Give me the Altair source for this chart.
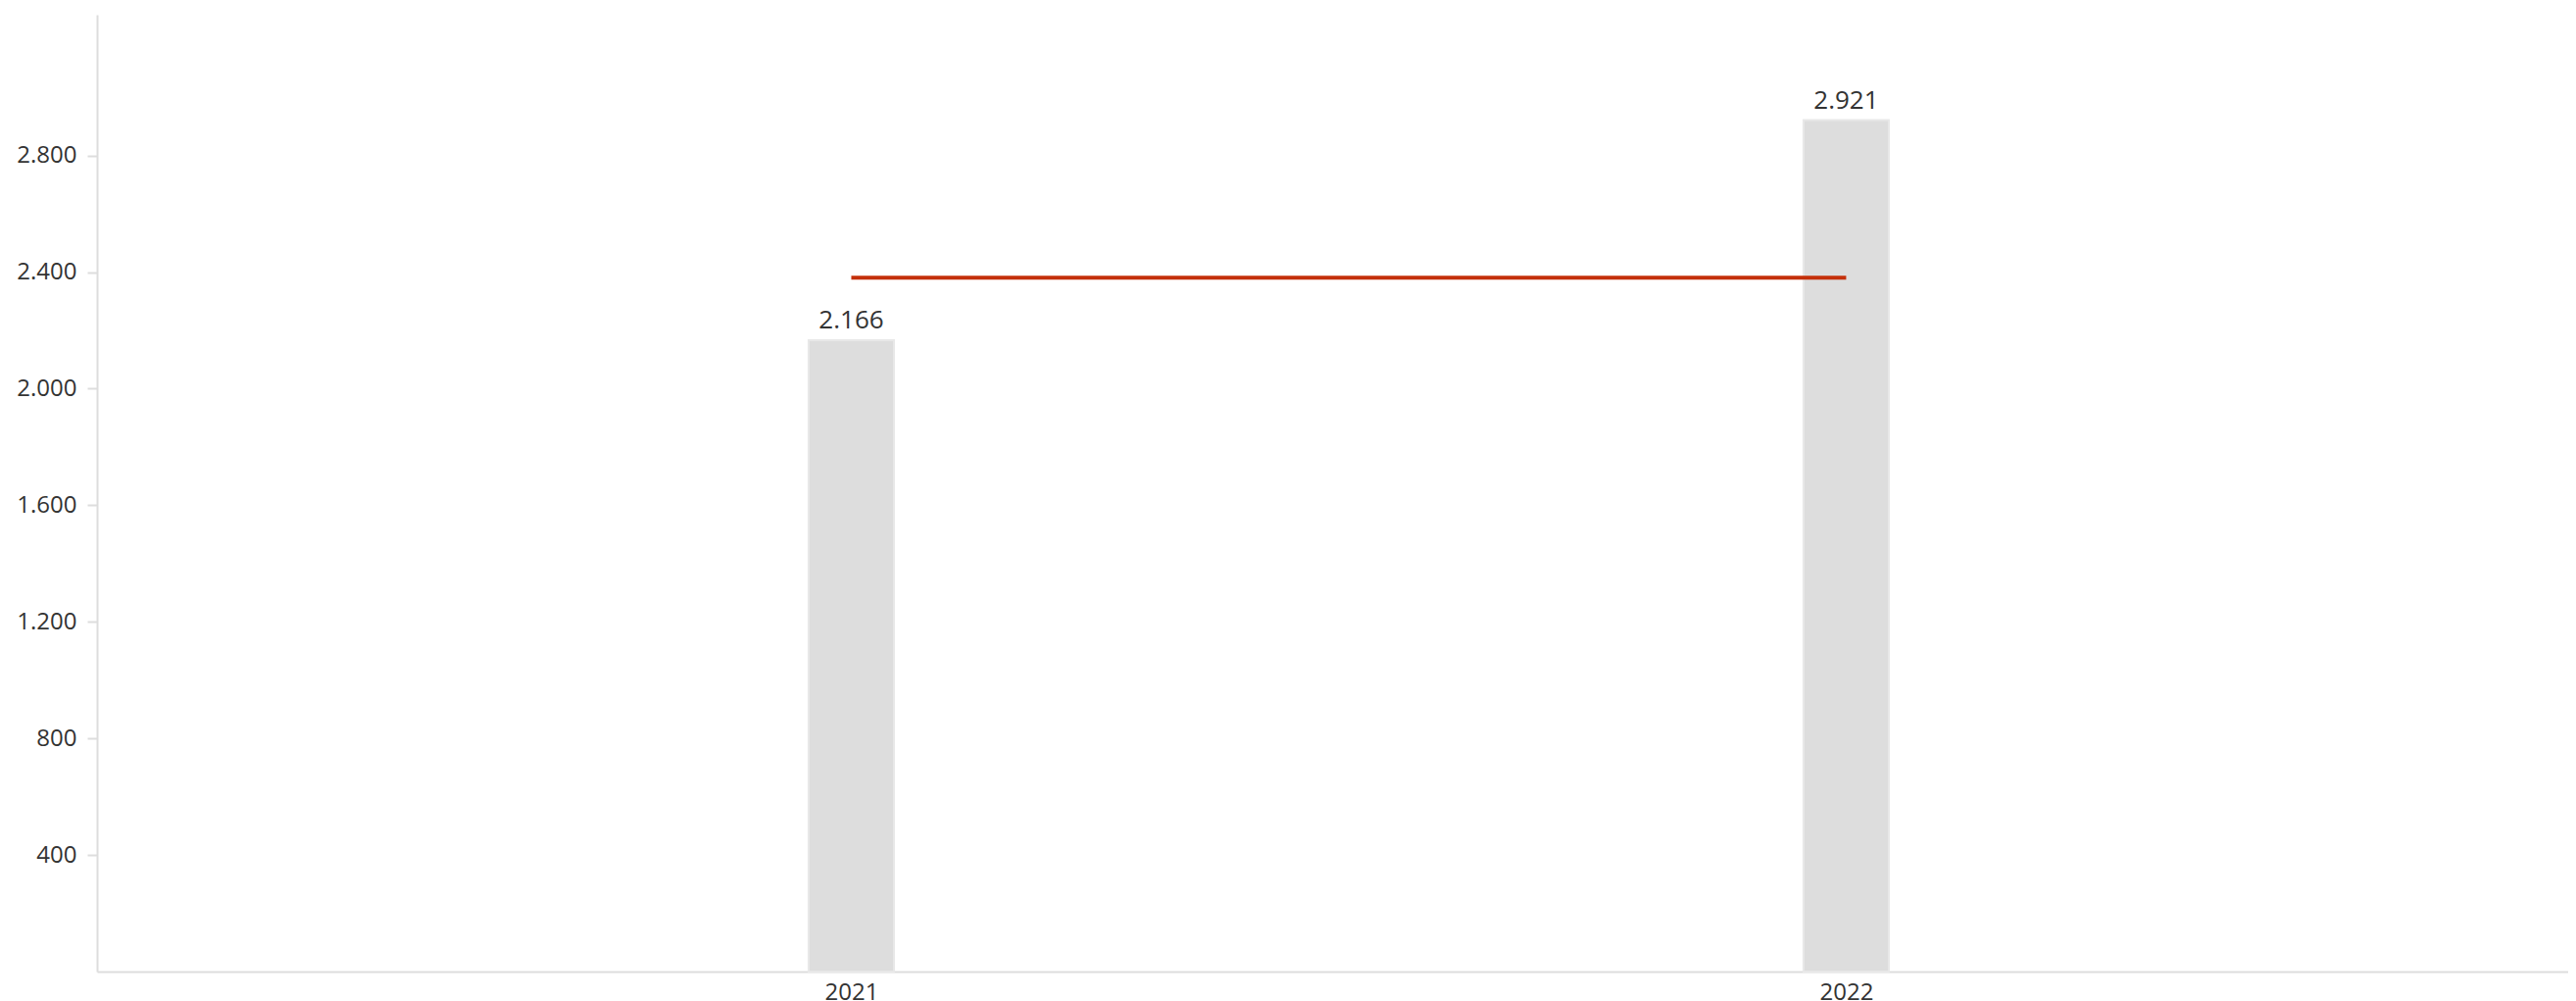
import altair as alt
import pandas as pd

# ---- data ----
years = [2021, 2022]
values = [2166, 2921]
ref_value = 2381
y_ticks = [400, 800, 1200, 1600, 2000, 2400, 2800]

bars_df = pd.DataFrame({"year": years, "value": values})
line_df = pd.DataFrame({"year": years, "ref": [ref_value] * len(years)})

FONT = "Open Sans"
TEXT = "#333333"
AXIS = "#dddddd"
DOT_FMT = "replace(format(datum.value, ','), ',', '.')"

x_scale = alt.Scale(domain=[2020.2468, 2022.7208], nice=False, zero=False)
y_scale = alt.Scale(domain=[0, 3283], nice=False)

x_enc = alt.X(
    "year:Q",
    scale=x_scale,
    axis=alt.Axis(
        values=years, format="d", title=None, grid=False, ticks=False, tickSize=0,
        labelPadding=9, labelFontSize=24, labelColor=TEXT, labelFont=FONT,
        domainColor=AXIS, domainWidth=2, labelFlush=False,
    ),
)
y_enc = alt.Y(
    "value:Q",
    scale=y_scale,
    axis=alt.Axis(
        values=y_ticks, labelExpr=DOT_FMT, title=None, grid=False,
        tickSize=10, tickColor=AXIS, tickWidth=2,
        domainColor=AXIS, domainWidth=2, labelPadding=11,
        labelFontSize=24, labelColor=TEXT, labelFont=FONT,
    ),
)

bars = alt.Chart(bars_df).mark_bar(
    size=87, color="#dddddd", stroke="#e8e8e8", strokeWidth=2
).encode(x=x_enc, y=y_enc)

labels = alt.Chart(bars_df).transform_calculate(
    label=DOT_FMT
).mark_text(
    baseline="alphabetic", dy=-12, fontSize=26, font=FONT, color=TEXT
).encode(
    x=alt.X("year:Q", scale=x_scale),
    y=alt.Y("value:Q", scale=y_scale),
    text="label:N",
)

line = alt.Chart(line_df).mark_line(color="#c4300a", strokeWidth=4).encode(
    x=alt.X("year:Q", scale=x_scale),
    y=alt.Y("ref:Q", scale=y_scale),
)

chart = alt.layer(bars, line, labels).properties(
    width=2521,
    height=976,
    autosize=alt.AutoSizeParams(type="none"),
    padding={"left": 91, "top": 7, "right": 0, "bottom": 30},
    background="white",
).configure_view(stroke=None)

chart.save("out.html", embed_options={"renderer": "svg", "actions": False})
